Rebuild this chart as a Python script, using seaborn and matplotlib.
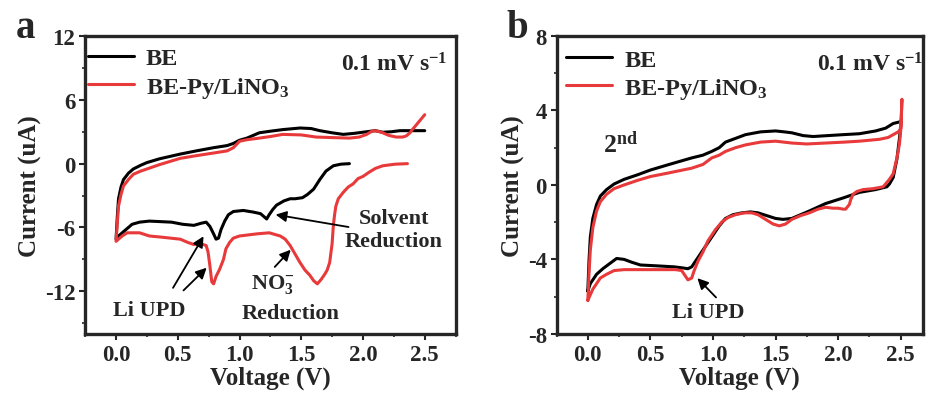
import numpy as np
import pandas as pd
import matplotlib
matplotlib.use("Agg")
import matplotlib.pyplot as plt
from matplotlib.ticker import MultipleLocator
import seaborn as sns

# Panel a: cathodic sweep from OCV down to 0 V, then anodic up to 2.5 V
a_be_v = [1.89, 1.82, 1.76, 1.70, 1.65, 1.60, 1.55, 1.51, 1.45, 1.41, 1.36, 1.33, 1.30, 1.27,
          1.24, 1.22, 1.20, 1.17, 1.11, 1.03, 0.95, 0.91, 0.88, 0.85, 0.83, 0.81, 0.79, 0.76,
          0.73, 0.69, 0.63, 0.54, 0.45, 0.36, 0.27, 0.19, 0.13, 0.09, 0.05, 0.02, 0.0,
          0.01, 0.02, 0.04, 0.06, 0.10, 0.14, 0.20, 0.25, 0.35, 0.52, 0.65, 0.79, 0.90, 0.95,
          1.00, 1.06, 1.16, 1.25, 1.35, 1.49, 1.58, 1.65, 1.75, 1.84, 1.93, 2.03, 2.10, 2.16,
          2.23, 2.30, 2.40, 2.50]
a_be_i = [0.0, -0.05, -0.2, -0.7, -1.5, -2.4, -2.9, -3.2, -3.3, -3.3, -3.5, -3.7, -3.9, -4.3,
          -4.8, -5.2, -5.0, -4.7, -4.55, -4.4, -4.5, -4.8, -5.4, -6.2, -7.0, -7.1, -6.6, -5.9,
          -5.5, -5.6, -5.8, -5.7, -5.5, -5.45, -5.4, -5.5, -5.7, -6.1, -6.5, -6.8, -7.1,
          -5.0, -3.3, -2.2, -1.5, -0.9, -0.5, -0.15, 0.1, 0.45, 0.9, 1.2, 1.5, 1.7, 1.9,
          2.2, 2.4, 2.9, 3.05, 3.2, 3.35, 3.3, 3.1, 2.9, 2.75, 2.85, 3.0, 3.1, 2.95,
          3.0, 3.1, 3.1, 3.1]

a_py_v = [2.36, 2.26, 2.16, 2.10, 2.05, 2.00, 1.96, 1.92, 1.88, 1.84, 1.80, 1.78, 1.77, 1.76,
          1.75, 1.73, 1.71, 1.69, 1.66, 1.63, 1.60, 1.57, 1.53, 1.49, 1.45, 1.41, 1.37, 1.33,
          1.24, 1.14, 1.00, 0.95, 0.92, 0.89, 0.87, 0.84, 0.81, 0.79, 0.775, 0.76, 0.745, 0.73,
          0.68, 0.63, 0.58, 0.52, 0.44, 0.36, 0.27, 0.19, 0.13, 0.09, 0.05, 0.0,
          0.01, 0.02, 0.04, 0.06, 0.10, 0.14, 0.20, 0.25, 0.35, 0.52, 0.65, 0.79, 0.90, 0.95,
          1.00, 1.06, 1.16, 1.25, 1.35, 1.50, 1.62, 1.75, 1.89, 1.97, 2.03, 2.08, 2.12, 2.16,
          2.21, 2.27, 2.32, 2.35, 2.38, 2.40, 2.45, 2.50]
a_py_i = [0.0, -0.05, -0.2, -0.45, -0.8, -1.2, -1.4, -1.9, -2.2, -2.7, -3.3, -4.0, -4.8, -5.8,
          -7.5, -9.3, -10.0, -10.4, -10.9, -11.3, -11.0, -10.5, -10.0, -9.3, -8.5, -7.7, -7.1, -6.8,
          -6.5, -6.6, -6.8, -7.0, -7.4, -8.0, -9.0, -9.9, -10.6, -11.3, -11.1, -9.6, -8.3, -7.7,
          -7.5, -7.6, -7.4, -7.1, -7.0, -6.9, -6.8, -6.5, -6.5, -6.5, -6.8, -7.3,
          -5.6, -4.0, -2.9, -2.1, -1.5, -1.0, -0.7, -0.5, -0.1, 0.5, 0.75, 1.0, 1.2, 1.5,
          2.1, 2.25, 2.4, 2.55, 2.75, 2.7, 2.5, 2.45, 2.4, 2.5, 2.75, 3.1, 3.05, 2.9,
          2.65, 2.5, 2.5, 2.6, 2.9, 3.2, 3.9, 4.6]

# Panel b: second cycle, anodic from 0 V to 2.5 V and back
b_be_v = [0.0, 0.01, 0.02, 0.04, 0.07, 0.10, 0.15, 0.21, 0.29, 0.40, 0.50, 0.65, 0.83, 0.92,
          0.99, 1.05, 1.10, 1.18, 1.26, 1.38, 1.50, 1.57, 1.63, 1.72, 1.80, 1.92, 2.04, 2.17,
          2.30, 2.38, 2.44, 2.50,
          2.50, 2.49, 2.47, 2.44, 2.41, 2.39, 2.30, 2.17, 2.04, 1.90, 1.77, 1.70, 1.63, 1.56,
          1.50, 1.43, 1.36, 1.30, 1.23, 1.16, 1.10, 1.05, 0.99, 0.94, 0.88, 0.85, 0.83, 0.80,
          0.75, 0.69, 0.56, 0.42, 0.35, 0.29, 0.23, 0.18, 0.12, 0.07, 0.04, 0.02, 0.0]
b_be_i = [-5.7, -4.0, -2.8, -1.8, -1.05, -0.6, -0.25, 0.05, 0.3, 0.55, 0.8, 1.1, 1.45, 1.6,
          1.8, 2.0, 2.3, 2.5, 2.7, 2.85, 2.9, 2.85, 2.8, 2.65, 2.6, 2.65, 2.7, 2.75,
          2.9, 3.05, 3.3, 3.4,
          3.2, 2.5, 1.4, 0.4, 0.05, -0.1, -0.25, -0.4, -0.7, -1.0, -1.4, -1.6, -1.8, -1.85,
          -1.8, -1.65, -1.5, -1.45, -1.5, -1.6, -1.8, -2.2, -2.8, -3.3, -3.9, -4.2, -4.4, -4.5,
          -4.45, -4.4, -4.35, -4.3, -4.15, -4.0, -3.95, -4.2, -4.5, -4.8, -5.1, -5.3, -5.7]

b_py_v = [0.0, 0.01, 0.02, 0.04, 0.07, 0.10, 0.15, 0.21, 0.29, 0.40, 0.50, 0.65, 0.83, 0.92,
          0.99, 1.05, 1.10, 1.18, 1.26, 1.38, 1.50, 1.63, 1.75, 1.90, 2.05, 2.17, 2.33, 2.40,
          2.44, 2.48, 2.50, 2.505, 2.51,
          2.50, 2.49, 2.47, 2.44, 2.41, 2.36, 2.28, 2.20, 2.15, 2.12, 2.10, 2.09, 2.06, 2.04,
          2.00, 1.96, 1.90, 1.84, 1.77, 1.70, 1.63, 1.58, 1.53, 1.48, 1.42, 1.36, 1.31, 1.25,
          1.18, 1.12, 1.07, 1.02, 0.96, 0.92, 0.88, 0.85, 0.83, 0.80, 0.77, 0.75, 0.70, 0.56,
          0.42, 0.29, 0.21, 0.15, 0.10, 0.07, 0.04, 0.02, 0.0]
b_py_i = [-6.2, -4.7, -3.5, -2.3, -1.4, -0.9, -0.5, -0.2, 0.0, 0.25, 0.45, 0.65, 0.9, 1.1,
          1.45, 1.6, 1.8, 2.0, 2.15, 2.3, 2.35, 2.25, 2.2, 2.25, 2.3, 2.35, 2.45, 2.55,
          2.7, 2.85, 3.0, 3.6, 4.6,
          2.9, 2.2, 1.45, 0.6, 0.3, -0.1, -0.2, -0.25, -0.35, -0.5, -0.8, -1.05, -1.3, -1.3,
          -1.25, -1.25, -1.2, -1.3, -1.5, -1.65, -1.85, -2.1, -2.2, -2.1, -1.85, -1.6, -1.5, -1.5,
          -1.6, -1.75, -2.0, -2.4, -3.0, -3.6, -4.1, -4.6, -5.0, -5.1, -4.8, -4.6, -4.55, -4.55,
          -4.55, -4.55, -4.6, -4.8, -5.0, -5.3, -5.6, -5.9, -6.2]

labels = ["BE", "BE-Py/LiNO$_3$"]
colors = ["black", "#e8393b"]

sns.set_style("ticks")
plt.rcParams["font.family"] = ["Liberation Serif", "DejaVu Serif"]
plt.rcParams["font.weight"] = "bold"
plt.rcParams["axes.labelweight"] = "bold"
plt.rcParams["axes.unicode_minus"] = False
plt.rcParams["mathtext.fontset"] = "custom"
plt.rcParams["mathtext.rm"] = "Liberation Serif:bold"
plt.rcParams["mathtext.it"] = "Liberation Serif:bold"
plt.rcParams["mathtext.bf"] = "Liberation Serif:bold"

fig = plt.figure(figsize=(9.26, 4.02), dpi=100)
ax1 = fig.add_axes([0.092, 0.167, 0.400, 0.741])
ax2 = fig.add_axes([0.601, 0.167, 0.396, 0.741])

panels = [
    (ax1, [(a_be_v, a_be_i), (a_py_v, a_py_i)], (-16, 12), 6, 3, 2.75, (0.0, 0.97)),
    (ax2, [(b_be_v, b_be_i), (b_py_v, b_py_i)], (-8, 8), 4, 2, 2.68, (0.019, 0.966)),
]

for ax, series, ylim, ymaj, ymin, xmax, anchor in panels:
    for (v, i), lab, col in zip(series, labels, colors):
        df = pd.DataFrame({"Voltage": v, "Current": i})
        sns.lineplot(data=df, x="Voltage", y="Current", sort=False, estimator=None,
                     color=col, lw=2.2, ax=ax, label=lab)
    ax.set_xlim(-0.25, xmax)
    ax.set_ylim(*ylim)
    ax.xaxis.set_major_locator(MultipleLocator(0.5))
    ax.xaxis.set_minor_locator(MultipleLocator(0.25))
    ax.yaxis.set_major_locator(MultipleLocator(ymaj))
    ax.yaxis.set_minor_locator(MultipleLocator(ymin))
    ax.set_xticks(np.arange(0, 2.51, 0.5))
    ax.set_xticklabels([f"{t:.1f}" for t in np.arange(0, 2.51, 0.5)])
    ax.set_xlabel("Voltage (V)", fontsize=18, labelpad=1)
    ax.set_ylabel("Current (uA)", fontsize=18, labelpad=2)
    ax.tick_params(axis="both", which="major", labelsize=16.5, width=1.5, length=4,
                   direction="out", pad=3)
    ax.tick_params(axis="both", which="minor", width=1.2, length=2.5, direction="out")
    for s in ax.spines.values():
        s.set_linewidth(2.4)
    ax.legend(loc="upper left", bbox_to_anchor=anchor, frameon=False, fontsize=17.5,
              handlelength=1.9, handletextpad=0.5, borderaxespad=0.0, borderpad=0.1,
              labelspacing=0.22)

ax1.text(0.978, 0.905, "0.1 mV s$^{-1}$", transform=ax1.transAxes, ha="right",
         va="center", fontsize=17)
ax2.text(1.0, 0.905, "0.1 mV s$^{-1}$", transform=ax2.transAxes, ha="right",
         va="center", fontsize=17)

# panel a annotations
arrow = dict(arrowstyle="-|>", color="black", lw=1.3, mutation_scale=16)
ax1.annotate("", xy=(1.27, -4.75), xytext=(1.905, -6.0), arrowprops=arrow)
ax1.text(2.25, -5.1, "Solvent", ha="center", va="center", fontsize=16)
ax1.text(2.25, -7.25, "Reduction", ha="center", va="center", fontsize=16)
ax1.annotate("", xy=(0.72, -6.6), xytext=(0.45, -11.9), arrowprops=arrow)
ax1.annotate("", xy=(0.75, -9.6), xytext=(0.53, -12.1), arrowprops=arrow)
ax1.text(0.27, -13.8, "Li UPD", ha="center", va="center", fontsize=16)
ax1.annotate("", xy=(1.43, -7.9), xytext=(1.27, -9.9), arrowprops=arrow)
ax1.text(1.27, -11.3, "NO$_3^{-}$", ha="center", va="center", fontsize=16)
ax1.text(1.41, -14.0, "Reduction", ha="center", va="center", fontsize=16)

# panel b annotations
ax2.text(0.26, 2.2, "2$^{\\mathrm{nd}}$", ha="center", va="center", fontsize=18.5)
ax2.annotate("", xy=(0.86, -4.9), xytext=(1.04, -6.15), arrowprops=arrow)
ax2.text(0.96, -6.8, "Li UPD", ha="center", va="center", fontsize=16)

fig.text(0.027, 0.93, "a", fontsize=28, fontweight="bold", ha="center", va="center")
fig.text(0.559, 0.93, "b", fontsize=28, fontweight="bold", ha="center", va="center")

fig.savefig("out.png", dpi=100)
